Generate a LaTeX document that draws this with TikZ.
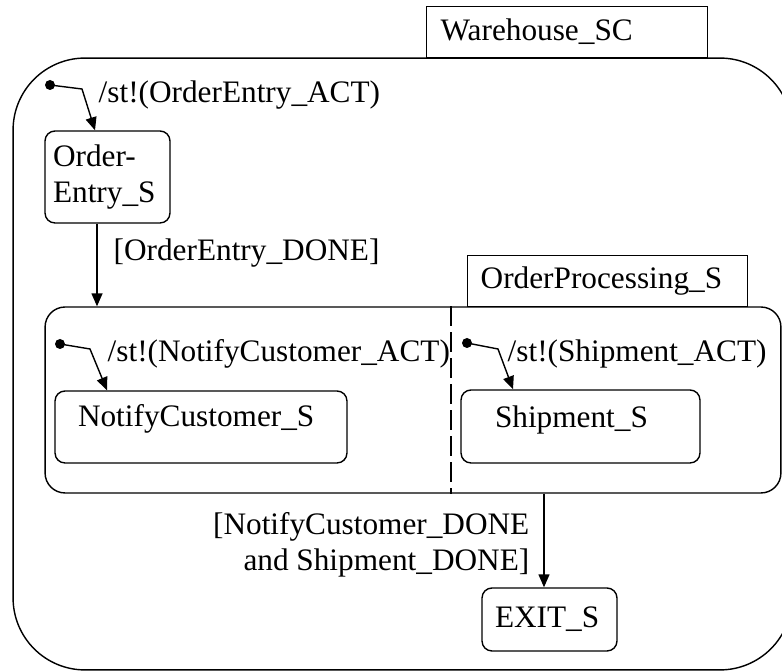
\documentclass[tikz,border=0pt]{standalone}
\usepackage{fontspec}
\setmainfont{Liberation Serif}
\usetikzlibrary{arrows.meta}

\tikzset{
  state/.style={draw, rounded corners=0.2cm, inner sep=0pt},
  tab/.style={draw, inner ysep=0pt, align=left, minimum height=1.02cm},
  trans/.style={-{Triangle[length=0.26cm,width=0.22cm]}},
  initdot/.style={circle, fill=black, inner sep=0pt, minimum size=0.2cm},
  lbl/.style={inner sep=0pt, anchor=base west},
  regionsep/.style={line width=1.4pt, dash pattern=on 0.4cm off 0.12cm},
}

\begin{document}
\begin{tikzpicture}[x=0.02cm, y=-0.02cm, line width=0.8pt,
  every node/.style={font=\fontsize{17.8}{20.7}\selectfont}]
  %%%%% START %%%%%

  \useasboundingbox (0,0) rectangle (782,671);
  \clip (0,0) rectangle (782,671);

  % chart frame and its title tab
  \node[draw, rounded corners=1.44cm, minimum width=15.58cm, minimum height=12.24cm] (ware) at (402.5,364) {};
  \node[tab, anchor=south west, text width=5.06cm, inner xsep=0.28cm] (waretab) at (426,58) {Warehouse\_SC};

  % first state
  \node[state, minimum height=1.84cm, text width=2.18cm, inner xsep=0.16cm, align=left] (entry) at (107.5,177) {Order-\\Entry\_S};

  % parallel state with two regions
  \node[draw, rounded corners=0.4cm, minimum width=14.72cm, minimum height=3.72cm] (proc) at (413,400) {};
  \node[tab, anchor=south west, text width=5.08cm, inner xsep=0.26cm] (proctab) at (467,307) {OrderProcessing\_S};
  \coordinate (sepx) at (451,0);
  \draw[regionsep] (proc.north -| sepx) -- (proc.south -| sepx);

  \node[state, minimum width=5.84cm, minimum height=1.44cm,
    label={[lbl, xshift=0.46cm, yshift=-0.72cm]north west:NotifyCustomer\_S}] (notify) at (201,427) {};
  \node[state, minimum width=4.78cm, minimum height=1.46cm,
    label={[lbl, xshift=0.68cm, yshift=-0.76cm]north west:Shipment\_S}] (ship) at (580.5,426.5) {};

  % final state
  \node[state, minimum height=1.26cm, text width=2.18cm, inner xsep=0.26cm, align=left] (exit) at (549.5,619.5) {EXIT\_S};

  % default transitions
  \node[initdot] (init1) at (50,85) {};
  \draw[trans] (init1.center) -- (82,89) -- ([xshift=-0.25cm]entry.north);
  \node[lbl] (act1) at (98,103) {/st!(OrderEntry\_ACT)};

  \node[initdot] (init2) at (60,344) {};
  \draw[trans] (init2.center) -- (90,349) -- ([xshift=-1.88cm]notify.north);
  \node[lbl] (act2) at (107,362) {/st!(NotifyCustomer\_ACT)};

  \node[initdot] (init3) at (467,343) {};
  \draw[trans] (init3.center) -- (498,349) -- ([xshift=-1.35cm]ship.north);
  \node[lbl] (act3) at (507,362) {/st!(Shipment\_ACT)};

  % transitions between states
  \coordinate (entryout) at ([xshift=-0.21cm]entry.south);
  \draw[trans] (entryout) -- (entryout |- proc.north);
  \node[lbl] (done1) at (113,261) {[OrderEntry\_DONE]};

  \coordinate (exitin) at ([xshift=-0.11cm]exit.north);
  \draw[trans] (proc.south -| exitin) -- (exitin);
  \node[inner sep=0pt, anchor=east, align=right] (done2) at (530,545) {[NotifyCustomer\_DONE\\and Shipment\_DONE]};

  %%%%% END %%%%%
\end{tikzpicture}
\end{document}
